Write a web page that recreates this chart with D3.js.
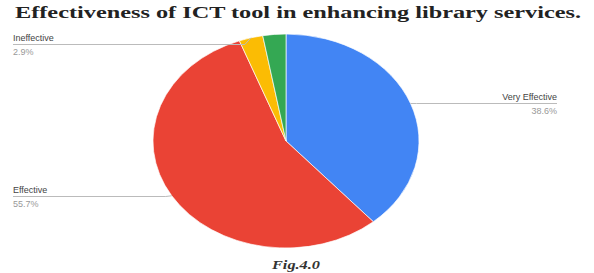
<!DOCTYPE html>
<html>
<head>
<meta charset="utf-8">
<script src="https://cdn.jsdelivr.net/npm/d3@7.9.0/dist/d3.min.js"></script>
<style>
  body { margin: 0; background: #fff; }
  svg { display: block; }
</style>
</head>
<body>
<svg id="chart" width="594" height="273"></svg>
<script>
// chart data
const categories = ['Very Effective', 'Effective', 'Ineffective', 'Not Effective'];
const values = [38.6, 55.7, 2.9, 2.8];
const shownLabels = ['Very Effective', 'Effective', 'Ineffective'];
const colors = ['#4285f4', '#ea4335', '#fbbc04', '#34a853'];

const svg = d3.select('#chart');
const cx = 286, cy = 141, rx = 133, ry = 107;

// title
svg.append('text')
  .attr('x', 15).attr('y', 18)
  .attr('font-family', 'Liberation Serif, serif')
  .attr('font-weight', 'bold')
  .attr('font-size', 16)
  .attr('fill', '#222')
  .attr('textLength', 566)
  .attr('lengthAdjust', 'spacingAndGlyphs')
  .text('Effectiveness of ICT tool in enhancing library services.');

const pie = d3.pie().sort(null).value(d => d);
const arcData = pie(values);
const arc = d3.arc().innerRadius(0).outerRadius(ry);

// pie is an ellipse in the picture, so stretch a circle
const g = svg.append('g')
  .attr('transform', `translate(${cx},${cy}) scale(${rx / ry},1)`);

g.selectAll('path')
  .data(arcData)
  .join('path')
  .attr('d', arc)
  .attr('fill', (d, i) => colors[i])
  .attr('stroke', '#fff')
  .attr('stroke-width', 0.6);

// labels with leader lines
const fmt = d3.format('.1f');
arcData.forEach((d, i) => {
  if (!shownLabels.includes(categories[i])) return;
  const mid = (d.startAngle + d.endAngle) / 2;
  const ex = cx + rx * Math.sin(mid);
  const ey = cy - ry * Math.cos(mid);
  const right = Math.sin(mid) > 0;
  const tx = right ? 557 : 13;
  // keep labels clear of the title
  const ly = Math.max(44, Math.round(ey)) + 0.5;

  svg.append('polyline')
    .attr('points', `${ex},${ey} ${right ? ex + 6 : ex - 6},${ly} ${tx},${ly}`)
    .attr('fill', 'none')
    .attr('stroke', '#bbb')
    .attr('stroke-width', 1);

  svg.append('text')
    .attr('x', tx).attr('y', ly - 4)
    .attr('text-anchor', right ? 'end' : 'start')
    .attr('font-family', 'Liberation Sans, Arial, sans-serif')
    .attr('font-size', 9)
    .attr('fill', '#444')
    .text(categories[i]);

  svg.append('text')
    .attr('x', tx).attr('y', ly + 10)
    .attr('text-anchor', right ? 'end' : 'start')
    .attr('font-family', 'Liberation Sans, Arial, sans-serif')
    .attr('font-size', 9)
    .attr('fill', '#999')
    .text(fmt(values[i]) + '%');
});

// figure caption
svg.append('text')
  .attr('x', 272).attr('y', 269)
  .attr('font-family', 'Liberation Serif, serif')
  .attr('font-weight', 'bold')
  .attr('font-style', 'italic')
  .attr('font-size', 13)
  .attr('fill', '#333')
  .attr('textLength', 48)
  .attr('lengthAdjust', 'spacingAndGlyphs')
  .text('Fig.4.0');
</script>
</body>
</html>
